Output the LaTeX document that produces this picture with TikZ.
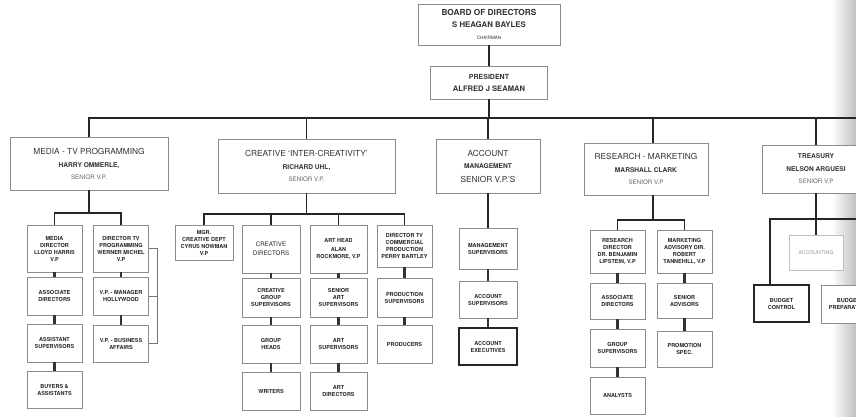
\documentclass[tikz,border=0pt]{standalone}
\usepackage{fontspec}
\setmainfont{TeX Gyre Heros}
\usepackage{tikz}

\newcommand{\deptext}[1]{{\fontsize{8.3}{10.5}\selectfont #1}}
\newcommand{\nametext}[1]{{\fontsize{6.6}{8.5}\selectfont\bfseries #1}}
\newcommand{\ranktext}[1]{{\fontsize{6.2}{8}\selectfont\color{black!60} #1}}

\begin{document}
\begin{tikzpicture}[x=1pt, y=-1pt,
  headbox/.style={draw=black!45, line width=0.7, fill=white, align=center, inner sep=1, text=black!80},
  subbox/.style={draw=black!45, line width=0.7, fill=white, align=center, inner sep=1, minimum width=55, text=black!85, font=\fontsize{5.5}{7}\selectfont\bfseries},
  darkbox/.style={subbox, draw=black!85, line width=1.1},
  fadebox/.style={subbox, draw=black!25, text=black!40, font=\fontsize{5.2}{7}\selectfont},
  wire/.style={line width=1.8, black!85},
  link/.style={line width=2.4, black!80},
  brk/.style={line width=0.7, black!55}]
  \useasboundingbox (0,0) rectangle (856,416);
  \clip (0,0) rectangle (856,416);
  \shade[left color=white, right color=black!25] (832,0) rectangle (856,416);

  % top of the chart
  \node [headbox, minimum width=142, minimum height=41] (board) at (489,24.5)
    {{\fontsize{8.3}{10}\selectfont\bfseries BOARD OF DIRECTORS}\\{\fontsize{7.8}{10}\selectfont\bfseries S HEAGAN BAYLES}\\{\fontsize{4.6}{6}\selectfont CHAIRMAN}};
  \node [headbox, minimum width=117, minimum height=33] (pres) at (489,82.5)
    {{\fontsize{7}{10}\selectfont\bfseries PRESIDENT}\\{\fontsize{7.6}{10}\selectfont\bfseries ALFRED J SEAMAN}};

  % departments
  \node [headbox, minimum width=158, minimum height=53] (media) at (89,163.5)
    {\deptext{MEDIA - TV PROGRAMMING}\\[1pt]\nametext{HARRY OMMERLE,}\\\ranktext{SENIOR V.P.}};
  \node [headbox, minimum width=177, minimum height=54] (creative) at (306.5,166)
    {\deptext{CREATIVE `INTER-CREATIVITY'}\\[1pt]\nametext{RICHARD UHL,}\\\ranktext{SENIOR V.P.}};
  \node [headbox, minimum width=104, minimum height=54] (account) at (488,166)
    {\deptext{ACCOUNT}\\\nametext{MANAGEMENT}\\[2pt]\deptext{SENIOR V.P.'S}};
  \node [headbox, minimum width=124, minimum height=52] (research) at (646,169)
    {\deptext{RESEARCH - MARKETING}\\[1pt]\nametext{MARSHALL CLARK}\\\ranktext{SENIOR V.P}};
  \node [headbox, minimum width=108, minimum height=48] (treasury) at (816,169)
    {\nametext{TREASURY}\\[1pt]\nametext{NELSON ARGUESI}\\\ranktext{SENIOR V.P}};

  % media
  \node [subbox, minimum height=47] (mdir) at (54.5,248.5) {MEDIA\\DIRECTOR\\LLOYD HARRIS\\V.P};
  \node [subbox, minimum height=47] (dirtv) at (121,248.5) {DIRECTOR TV\\PROGRAMMING\\WERNER MICHEL\\V.P};
  \node [subbox, minimum height=38] (assocm) at (54.5,296) {ASSOCIATE\\DIRECTORS};
  \node [subbox, minimum height=38] (asstsup) at (54.5,343) {ASSISTANT\\SUPERVISORS};
  \node [subbox, minimum height=37] (buyers) at (54.5,389.5) {BUYERS \&\\ASSISTANTS};
  \node [subbox, minimum height=38] (vpmgr) at (121,296) {V.P. - MANAGER\\HOLLYWOOD};
  \node [subbox, minimum height=37] (vpbus) at (121,343.5) {V.P. - BUSINESS\\AFFAIRS};

  % creative
  \node [subbox, minimum width=58, minimum height=35] (mgr) at (204,242.5) {MGR.\\CREATIVE DEPT\\CYRUS NOWMAN\\V.P};
  \node [subbox, minimum width=58, minimum height=48, font=\fontsize{6.2}{9}\selectfont] (crdir) at (271,249) {CREATIVE\\DIRECTORS};
  \node [subbox, minimum width=57, minimum height=48] (arthead) at (338.5,249) {ART HEAD\\[2pt]ALAN\\ROCKMORE, V.P};
  \node [subbox, minimum height=42] (dirtvc) at (404.5,246) {DIRECTOR TV\\COMMERCIAL\\PRODUCTION\\PERRY BARTLEY};
  \node [subbox, minimum width=58, minimum height=39] (crgrp) at (271,297.5) {CREATIVE\\GROUP\\SUPERVISORS};
  \node [subbox, minimum width=58, minimum height=38] (grphd) at (271,344) {GROUP\\HEADS};
  \node [subbox, minimum width=58, minimum height=38] (writers) at (271,391) {WRITERS};
  \node [subbox, minimum width=57, minimum height=39] (srart) at (338.5,297.5) {SENIOR\\ART\\SUPERVISORS};
  \node [subbox, minimum width=57, minimum height=38] (artsup) at (338.5,344) {ART\\SUPERVISORS};
  \node [subbox, minimum width=57, minimum height=38] (artdir) at (338.5,391) {ART\\DIRECTORS};
  \node [subbox, minimum height=39] (prodsup) at (404.5,297.5) {PRODUCTION\\SUPERVISORS};
  \node [subbox, minimum height=38] (producers) at (404.5,344) {PRODUCERS};

  % account management
  \node [subbox, minimum width=58, minimum height=41] (mgmtsup) at (488,248.5) {MANAGEMENT\\SUPERVISORS};
  \node [subbox, minimum width=58, minimum height=37] (acctsup) at (488,299.5) {ACCOUNT\\SUPERVISORS};
  \node [darkbox, minimum width=58, minimum height=37] (accexec) at (488,346.5) {ACCOUNT\\EXECUTIVES};

  % research
  \node [subbox, minimum height=43] (resdir) at (617.5,251.5) {RESEARCH\\DIRECTOR\\DR. BENJAMIN\\LIPSTEIN, V.P};
  \node [subbox, minimum height=43] (mktadv) at (684.5,251.5) {MARKETING\\ADVISORY DIR.\\ROBERT\\TANNEHILL, V.P};
  \node [subbox, minimum height=36] (assocr) at (617.5,301) {ASSOCIATE\\DIRECTORS};
  \node [subbox, minimum height=38] (grpsup) at (617.5,348) {GROUP\\SUPERVISORS};
  \node [subbox, minimum height=37] (analysts) at (617.5,395.5) {ANALYSTS};
  \node [subbox, minimum height=35] (senadv) at (684.5,300.5) {SENIOR\\ADVISORS};
  \node [subbox, minimum height=36] (promo) at (684.5,349) {PROMOTION\\SPEC.};

  % treasury
  \node [fadebox, minimum width=54, minimum height=35] (accounting) at (816,252.5) {ACCOUNTING};
  \node [darkbox, minimum height=37] (budget) at (781.5,303.5) {BUDGET\\CONTROL};
  \node [subbox, minimum height=38] (budprep) at (848.5,304) {BUDGET\\PREPARATION};

  % main lines
  \coordinate (busL) at (88,118);
  \coordinate (busR) at (856,118);
  \draw [wire] (board) -- (pres);
  \draw [wire] (pres.south) -- (pres.south |- busL);
  \draw [wire] (busL) -- (busR);
  \foreach \d in {media, creative, account, treasury}
    \draw [wire] (\d.north) -- (\d.north |- busL);
  \draw [wire] ([xshift=7]research.north) -- ([xshift=7]research.north |- busL);

  % department lines
  \draw [wire] (media.south) -- (media.south |- 0,213);
  \draw [wire] (mdir.north) -- ++(0,-12) -| (dirtv.north);
  \draw [wire] (creative.south) -- (creative.south |- 0,214);
  \draw [wire] (mgr.north) -- ++(0,-11) -| (dirtvc.north);
  \draw [wire] (arthead.north) -- ++(0,-11);
  \draw [wire] (crdir.north) -- ++(0,-11);
  \draw [wire] (account.south) -- (mgmtsup.north);
  \draw [wire] ([xshift=7]research.south) -- ([xshift=7]research.south |- 0,220);
  \draw [wire] (resdir.north) -- ++(0,-10) -| (mktadv.north);
  \draw [wire] (treasury.south) -- (accounting.north);
  \coordinate (tcorner) at (770,219);
  \coordinate (tend) at (856,219);
  \draw [wire] (budget.north -| tcorner) -- (tcorner) -- (tend);
  \draw [brk] (dirtv.east) -- ++(8,0) |- (vpbus.east);
  \draw [brk] (vpmgr.east) -- ++(8,0);

  \foreach \a/\b in {mdir/assocm, assocm/asstsup, asstsup/buyers, dirtv/vpmgr, vpmgr/vpbus,
    crdir/crgrp, crgrp/grphd, grphd/writers, arthead/srart, srart/artsup, artsup/artdir,
    dirtvc/prodsup, prodsup/producers, mgmtsup/acctsup, acctsup/accexec,
    resdir/assocr, assocr/grpsup, grpsup/analysts, mktadv/senadv, senadv/promo}
    \draw [link] (\a) -- (\b);
\end{tikzpicture}
\end{document}
